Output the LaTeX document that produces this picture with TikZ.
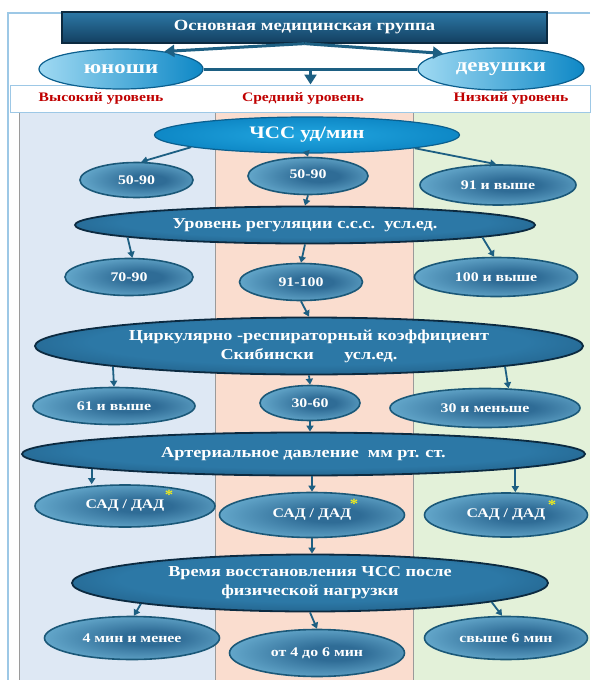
\documentclass[tikz,border=0pt]{standalone}
\usepackage{fontspec}
\setmainfont{Liberation Serif}[FakeStretch=1.2]
\usetikzlibrary{shapes.geometric,arrows.meta,calc}
\definecolor{colblue}{HTML}{DEE8F4}
\definecolor{colpink}{HTML}{FADDCF}
\definecolor{colgreen}{HTML}{E3F1D9}
\definecolor{frame}{HTML}{9DC8E6}
\definecolor{sep}{HTML}{9A9A9A}
\definecolor{edge}{HTML}{1B5878}
\definecolor{smin}{HTML}{2F6C96}
\definecolor{smout}{HTML}{88D0EF}
\definecolor{bigin}{HTML}{2C78A6}
\definecolor{bigout}{HTML}{133F60}
\definecolor{bigedge}{HTML}{0C2A40}
\definecolor{brightin}{HTML}{22A6E0}
\definecolor{brightout}{HTML}{0E88C6}
\definecolor{brightedge}{HTML}{0B5F8E}
\definecolor{arr}{HTML}{1D5F82}
\definecolor{redlbl}{HTML}{C00000}
\definecolor{staryel}{HTML}{F2EE1A}
\pgfdeclareradialshading{smshade}{\pgfpoint{6bp}{0bp}}{color(0bp)=(smin); color(8bp)=(smin); color(42bp)=(smout); color(50bp)=(smout)}
\pgfdeclareradialshading{bigshade}{\pgfpoint{0bp}{6bp}}{color(0bp)=(bigin); color(20bp)=(bigin); color(46bp)=(bigout); color(50bp)=(bigout)}
\begin{document}
\begin{tikzpicture}[x=1pt,y=-1pt,
  smallnode/.style={ellipse, draw=edge, line width=1.6pt, shading=smshade,
    text=white, font=\bfseries\fontsize{13.2}{15}\selectfont, inner sep=0pt},
  bignode/.style={ellipse, draw=bigedge, line width=1.8pt, shading=bigshade,
    text=white, font=\bfseries\fontsize{15.2}{19}\selectfont, align=center, inner sep=0pt},
  brightnode/.style={ellipse, draw=brightedge, line width=1.2pt, inner color=brightin, outer color=brightout,
    text=white, font=\bfseries\fontsize{17.5}{19}\selectfont, inner sep=0pt},
  gendernode/.style={ellipse, draw=brightedge, line width=1.2pt, left color=smout!80!white, right color=brightout,
    text=white, font=\bfseries\fontsize{19}{21}\selectfont, inner sep=0pt},
  lvl/.style={text=redlbl, font=\bfseries\fontsize{13}{15}\selectfont},
  conn/.style={draw=arr, line width=1.8pt, -{Triangle[length=6pt,width=7pt]}},
  harrow/.style={draw=arr, line width=3pt, -{Triangle[length=10pt,width=12pt]}},
  hline/.style={draw=arr, line width=3pt},
  starlbl/.style={text=staryel, font=\bfseries\fontsize{14}{14}\selectfont, inner sep=0pt}
]
\useasboundingbox (0,0) rectangle (590,680);
\fill[white] (0,0) rectangle (590,680);
% columns
\fill[colblue] (19,112) rectangle (215,680);
\fill[colpink] (215,112) rectangle (413,680);
\fill[colgreen] (413,112) rectangle (590,680);
\draw[sep, line width=0.6pt] (19,112) -- (19,680) (215,112) -- (215,680) (413,112) -- (413,680);
% outer frame
\draw[frame, line width=1.2pt] (590,13) -- (8,13) -- (8,680);
% header
\node[draw=bigedge, line width=1.2pt, top color=bigin, bottom color=bigout, text=white,
  minimum width=485pt, minimum height=31pt, inner sep=0pt,
  font=\bfseries\fontsize{15.5}{17}\selectfont] (head) at (304.5,27.5) {Основная медицинская группа};
% band
\node[draw=frame, fill=white, line width=1pt, minimum width=580pt, minimum height=27pt, inner sep=0pt] (band) at (300,98.5) {};
\node[lvl] (lab1) at (101,98.5) {Высокий уровень};
\node[lvl] (lab2) at (303,98.5) {Средний уровень};
\node[lvl] (lab3) at (511,98.5) {Низкий уровень};
% gender
\node[gendernode, minimum width=164pt, minimum height=40pt] (boy) at (121,69) {юноши};
\node[gendernode, minimum width=166pt, minimum height=42pt] (girl) at (501,69) {девушки};
\draw[harrow] (head.south) -- (boy.22);
\draw[harrow] (head.south) -- (girl.165);
\draw[hline] (boy.east) -- (girl.west) coordinate[midway] (m);
\draw[harrow] (m) -- (m |- band.north);
% level 1
\node[brightnode, minimum width=305pt, minimum height=36pt] (chss) at (307,135) {ЧСС уд/мин};
\node[smallnode, minimum width=113pt, minimum height=35pt] (a1) at (136.5,180) {50-90};
\node[smallnode, minimum width=120pt, minimum height=37pt] (a2) at (308,176) {\raisebox{3pt}{50-90}};
\node[smallnode, minimum width=156pt, minimum height=40pt] (a3) at (498,185) {91 и выше};
\draw[conn] (chss.186) -- (a1.75);
\draw[conn] (chss.south) -- (a2.north);
\draw[conn] (chss.-7) -- (a3.95);
% level 2
\node[bignode, minimum width=460pt, minimum height=37pt] (reg) at (305,225) {Уровень регуляции с.с.с.\ \ усл.ед.};
\draw[conn] (a2.south) -- (reg.north);
\node[smallnode, minimum width=128pt, minimum height=37pt] (b1) at (129,277) {70-90};
\node[smallnode, minimum width=123pt, minimum height=37pt] (b2) at (301,282) {91-100};
\node[smallnode, minimum width=163pt, minimum height=39pt] (b3) at (496,277) {100 и выше};
\draw[conn] (reg.184) -- (b1.80);
\draw[conn] (reg.south) -- (b2.north);
\draw[conn] (reg.-4.5) -- (b3.95);
% level 3
\node[bignode, minimum width=548pt, minimum height=57pt] (cr) at (309,346) {Циркулярно -респираторный коэффициент\\Скибински\qquad усл.ед.};
\draw[conn] (b2.south) -- (cr.north);
\node[smallnode, minimum width=162pt, minimum height=37pt] (c1) at (114,406) {61 и выше};
\node[smallnode, minimum width=100pt, minimum height=35pt] (c2) at (310,403) {30-60};
\node[smallnode, minimum width=190pt, minimum height=39pt] (c3) at (485,408) {30 и меньше};
\draw[conn] (cr.186) -- (c1.north);
\draw[conn] (cr.south) -- (c2.north);
\draw[conn] (cr.-6) -- (c3.40);
% level 4
\node[bignode, minimum width=563pt, minimum height=43pt] (ad) at (303.5,454) {Артериальное давление\ \ мм рт. ст.};
\draw[conn] (c2.south) -- (c2.south |- ad.north);
\node[smallnode, minimum width=180pt, minimum height=42pt] (d1) at (125,506) {САД / ДАД};
\node[smallnode, minimum width=185pt, minimum height=45pt] (d2) at (312,515) {САД / ДАД};
\node[smallnode, minimum width=163pt, minimum height=44pt] (d3) at (506,515) {САД / ДАД};
\node[starlbl] (s1) at ([shift={(44,-11)}]d1.center) {*};
\node[starlbl] (s2) at ([shift={(42,-11)}]d2.center) {*};
\node[starlbl] (s3) at ([shift={(46,-10)}]d3.center) {*};
\draw[conn] (ad.184) -- (ad.184 |- d1.north);
\draw[conn] (d2.north |- ad.south) -- (d2.north);
\draw[conn] (ad.-4) -- (ad.-4 |- d3.north);
% level 5
\node[bignode, minimum width=476pt, minimum height=57pt] (vr) at (310,583) {Время восстановления ЧСС после\\физической нагрузки};
\draw[conn] (d2.south) -- (d2.south |- vr.north);
\node[smallnode, minimum width=175pt, minimum height=43pt] (e1) at (132,638) {4 мин и менее};
\node[smallnode, minimum width=175pt, minimum height=47pt] (e2) at (317,653) {от 4 до 6 мин};
\node[smallnode, minimum width=163pt, minimum height=43pt] (e3) at (506,638) {свыше 6 мин};
\draw[conn] (vr.187) -- (e1.85);
\draw[conn] (vr.south) -- (e2.north);
\draw[conn] (vr.-6.5) -- (e3.100);
\end{tikzpicture}
\end{document}
